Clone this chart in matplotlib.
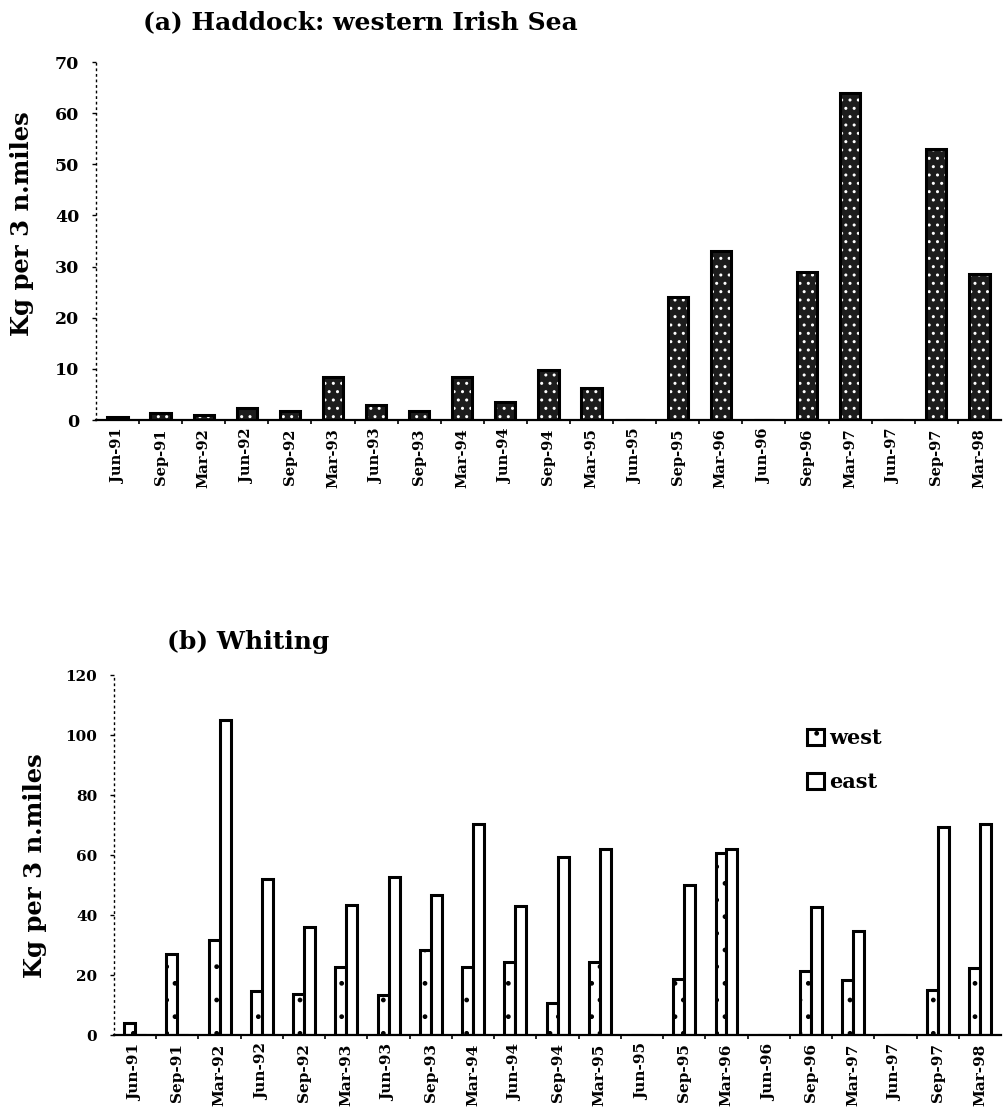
import numpy as np
import matplotlib.pyplot as plt

plt.rcParams["font.family"] = ["DejaVu Serif"]
plt.rcParams["font.weight"] = "bold"
plt.rcParams["hatch.linewidth"] = 1.0

surveys = ["Jun-91", "Sep-91", "Mar-92", "Jun-92", "Sep-92", "Mar-93", "Jun-93",
           "Sep-93", "Mar-94", "Jun-94", "Sep-94", "Mar-95", "Jun-95", "Sep-95",
           "Mar-96", "Jun-96", "Sep-96", "Mar-97", "Jun-97", "Sep-97", "Mar-98"]

# (a) haddock, western Irish Sea
haddock = [0.5, 1.3, 0.9, 2.4, 1.8, 8.4, 3.0, 1.8, 8.4, 3.5, 9.8, 6.3, 0.1, 24.0,
           33.0, 0.0, 29.0, 64.0, 0.0, 53.0, 28.5]

# (b) whiting, west and east
whiting_west = [4.0, 27.0, 31.7, 14.8, 13.7, 22.6, 13.2, 28.3, 22.6, 24.3, 10.6,
                24.3, 0.0, 18.7, 60.8, 0.0, 21.4, 18.3, 0.0, 15.0, 22.3]
whiting_east = [0.0, 0.0, 105.0, 52.1, 35.9, 43.2, 52.8, 46.6, 70.3, 43.0, 59.4,
                61.9, 0.0, 49.9, 61.9, 0.0, 42.8, 34.8, 0.0, 69.4, 70.3]

x = np.arange(len(surveys))

fig = plt.figure(figsize=(10.07, 11.18), dpi=100)


def style_axis(ax, ymax, step, xsize, ysize):
    ax.set_xlim(-0.5, len(surveys) - 0.5)
    ax.set_ylim(0, ymax)
    ax.set_yticks(np.arange(0, ymax + 1, step))
    ax.set_xticks(x)
    ax.set_xticklabels(surveys, rotation=90, fontsize=xsize, fontweight="bold")
    ax.set_xticks(x[:-1] + 0.5, minor=True)
    ax.tick_params(axis="x", which="major", length=0, pad=6)
    ax.tick_params(axis="x", which="minor", length=3, width=1.2, direction="out")
    ax.tick_params(axis="y", length=3, width=1, labelsize=ysize, pad=9)
    for lab in ax.get_yticklabels():
        lab.set_fontweight("bold")
    ax.spines["top"].set_visible(False)
    ax.spines["right"].set_visible(False)
    ax.spines["left"].set_linestyle((0, (1, 3)))
    ax.spines["left"].set_linewidth(1.0)
    ax.spines["bottom"].set_linewidth(1.6)


# top panel
ax1 = fig.add_axes([0.0953, 0.6243, 0.8987, 0.3202])
ax1.bar(x, haddock, width=0.47, color="#1c1c1c", edgecolor="white",
        hatch="..", linewidth=0)
ax1.bar(x, haddock, width=0.47, fill=False, edgecolor="black", linewidth=2.2)
style_axis(ax1, 70, 10, 10.5, 12.5)
fig.text(0.142, 0.980, "(a) Haddock: western Irish Sea", fontsize=18,
         fontweight="bold", va="center", ha="left")
fig.text(0.022, 0.80, "Kg per 3 n.miles", rotation=90, fontsize=17.5,
         fontweight="bold", va="center", ha="center")

# bottom panel
ax2 = fig.add_axes([0.1132, 0.0742, 0.8809, 0.322])
w = 0.26
ax2.bar(x - w / 2, whiting_west, width=w, color="white", edgecolor="black",
        hatch=".", linewidth=2.2, label="west")
ax2.bar(x + w / 2, whiting_east, width=w, color="white", edgecolor="black",
        linewidth=2.2, label="east")
style_axis(ax2, 120, 20, 11, 11)
fig.text(0.166, 0.426, "(b) Whiting", fontsize=18, fontweight="bold",
         va="center", ha="left")
fig.text(0.035, 0.226, "Kg per 3 n.miles", rotation=90, fontsize=17.5,
         fontweight="bold", va="center", ha="center")
ax2.legend(loc="upper left", bbox_to_anchor=(0.791, 0.358),
           bbox_transform=fig.transFigure, frameon=False, fontsize=15,
           borderpad=0, handlelength=0.8, handleheight=0.8, handletextpad=0.25,
           labelspacing=1.14)

fig.savefig("out.png", dpi=100)
